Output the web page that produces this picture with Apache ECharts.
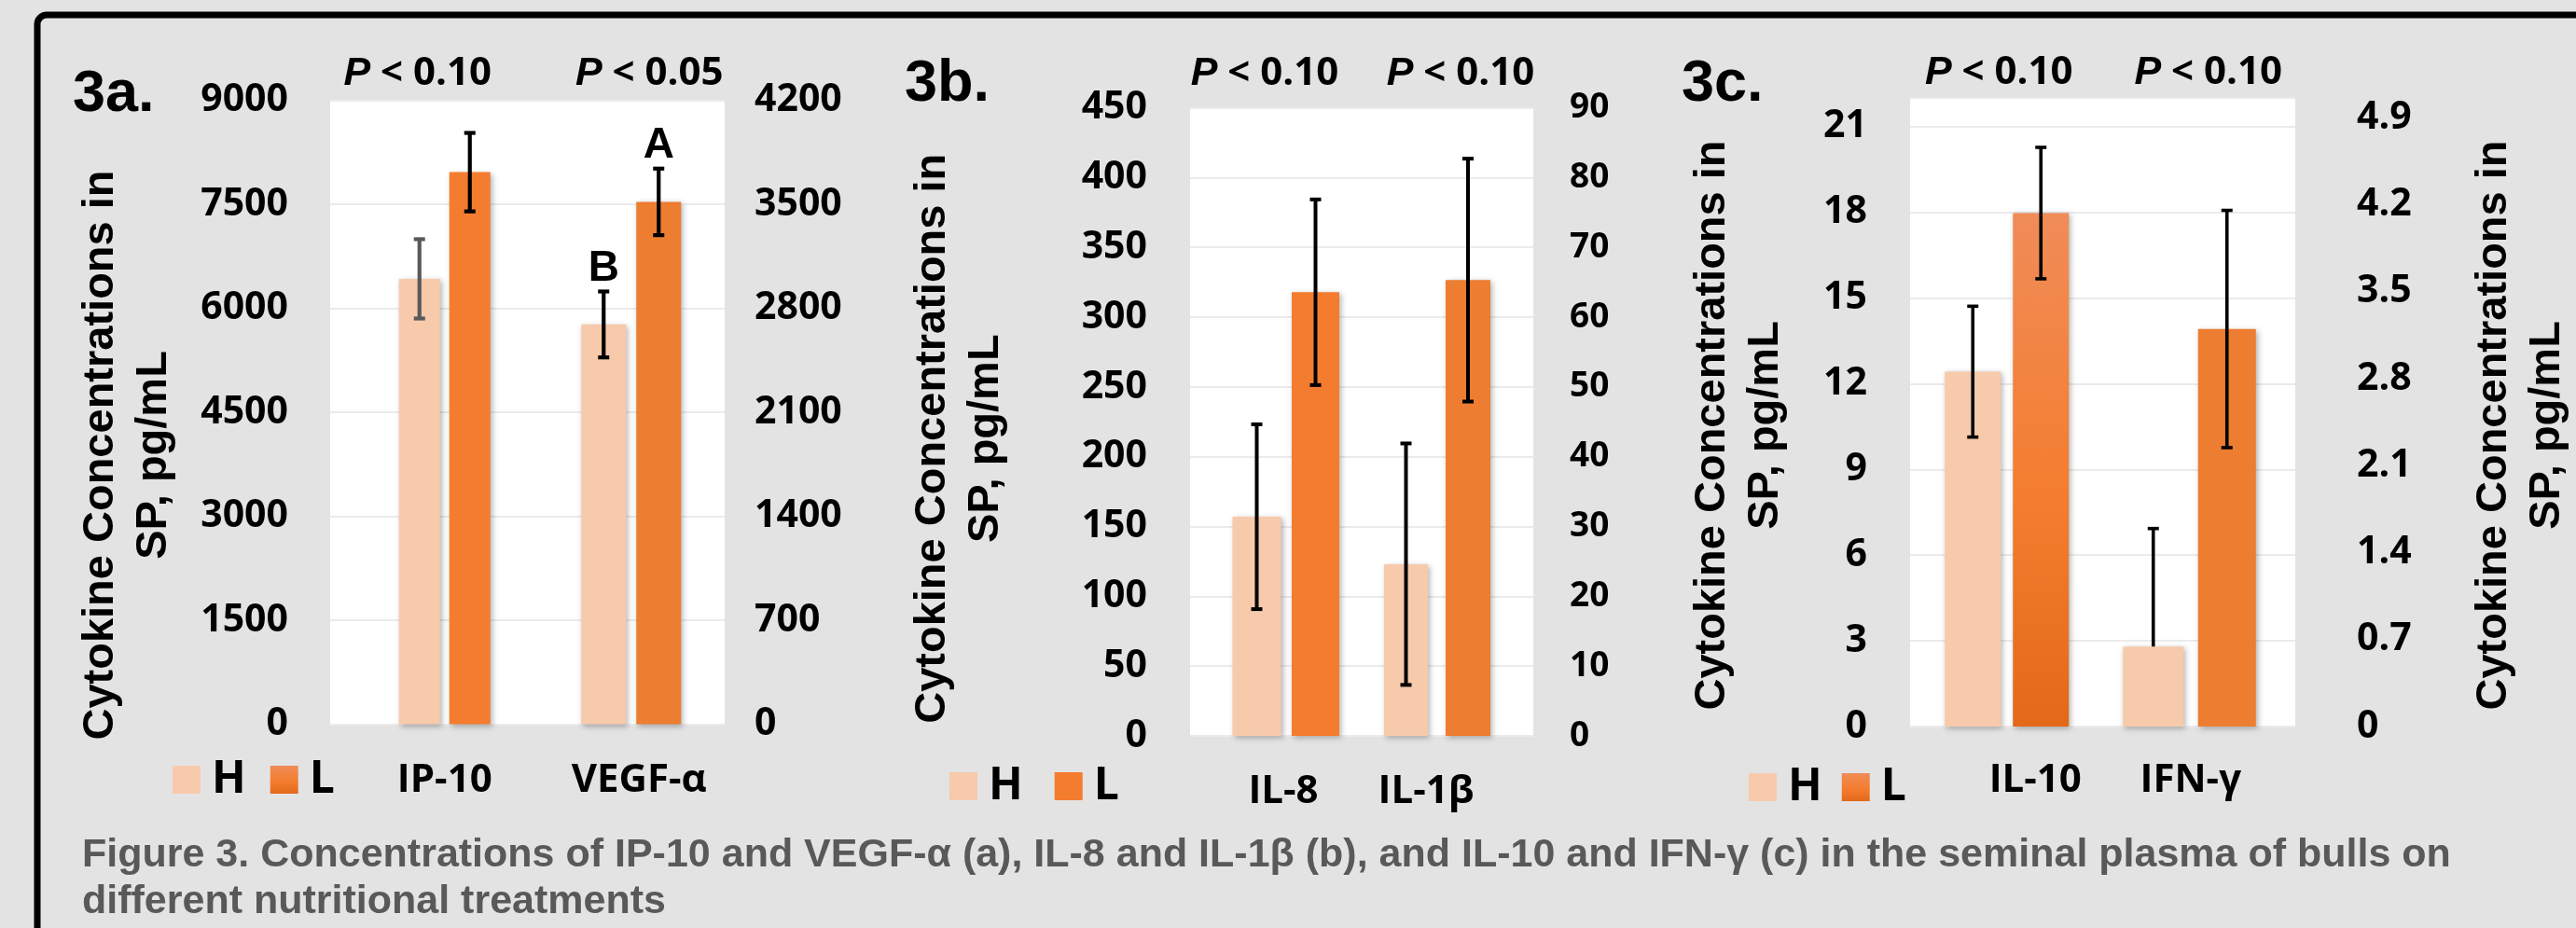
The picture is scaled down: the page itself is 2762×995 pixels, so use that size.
<!DOCTYPE html>
<html>
<head>
<meta charset="utf-8">
<title>Figure 3 - cytokines in seminal plasma</title>
<script src="https://cdn.jsdelivr.net/npm/echarts@6/dist/echarts.min.js"></script>
<style>
  html, body { margin: 0; padding: 0; background: #e3e3e3; }
  #chart { width: 2762px; height: 995px; }
</style>
</head>
<body>
<div id="chart"></div>
<script>
// -----------------------------------------
// DATA (pg/mL)
// first category -> left axis, second -> right axis
// -----------------------------------------
const catsA = ['IP-10', 'VEGF-α'];
const pValuesA = ['0.10', '0.05'];
const highA = [6424, 2691];
const lowA = [7963, 3516];
const highErrA = [572, 222];
const lowErrA = [566, 224];
const highLettersA = ['', 'B'];
const lowLettersA = ['', 'A'];
const leftTicksA = [0, 1500, 3000, 4500, 6000, 7500, 9000];
const rightTicksA = [0, 700, 1400, 2100, 2800, 3500, 4200];

const catsB = ['IL-8', 'IL-1β'];
const pValuesB = ['0.10', '0.10'];
const highB = [157, 24.6];
const lowB = [317.8, 65.3];
const highErrB = [66.2, 17.3];
const lowErrB = [66.5, 17.4];
const leftTicksB = [0, 50, 100, 150, 200, 250, 300, 350, 400, 450];
const rightTicksB = [0, 10, 20, 30, 40, 50, 60, 70, 80, 90];

const catsC = ['IL-10', 'IFN-γ'];
const pValuesC = ['0.10', '0.10'];
const highC = [12.42, 0.644];
const lowC = [17.97, 3.2];
const highErrC = [2.29, 0.95];
const highErrDownC = [2.29, 0]; // IFN-γ H only has the upper whisker
const lowErrC = [2.3, 0.955];
const leftTicksC = [0, 3, 6, 9, 12, 15, 18, 21];
const rightTicksC = [0, 0.7, 1.4, 2.1, 2.8, 3.5, 4.2, 4.9];
const axisTopC = [22, 5.06]; // plot area runs a bit past the last tick

const seriesNames = ['H', 'L'];
const panelTags = ['3a.', '3b.', '3c.'];
const caption = 'Figure 3. Concentrations of IP-10 and VEGF-α (a), IL-8 and IL-1β (b), and IL-10 and IFN-γ (c) in the seminal plasma of bulls on\ndifferent nutritional treatments';
const axisTitle = 'Cytokine Concentrations in\nSP, pg/mL';

// -----------------------------------------
// STYLE
// -----------------------------------------
const FONT_NUM = '"Open Sans", sans-serif';
const FONT_SANS = '"Liberation Sans", Arial, sans-serif';
const COLOR_H = '#f7caac';
const COLOR_L = '#f47c2f';
const COLOR_L2 = '#ed7d31';
const gradL = () => new echarts.graphic.LinearGradient(0, 0, 0, 1, [
  { offset: 0, color: '#f08c58' },
  { offset: 0.55, color: '#f47d2f' },
  { offset: 1, color: '#e3691a' }
]);

const panels = [
  {
    cats: catsA, pValues: pValuesA, high: highA, low: lowA,
    highErr: highErrA, highErrDown: highErrA, lowErr: lowErrA,
    highLetters: highLettersA, lowLetters: lowLettersA,
    leftTicks: leftTicksA, rightTicks: rightTicksA, axisTop: [null, null],
    tag: { left: 78, top: 70 },
    grid: { left: 354, top: 107.5, width: 423, height: 669 },
    barWidth: [[44, 44], [48, 48]],
    barShift: [[-10, 44], [-24, 35]],
    lowFill: [COLOR_L, COLOR_L2],
    errColor: [['#595959', '#000'], ['#000', '#000']],
    errWidth: 4.2,
    catShift: [17, 14], pShift: [-12, 25], pMargin: 7, catMargin: 40,
    leftLabel: { size: 41, margin: 45 }, rightLabel: { size: 41, margin: 32 },
    leftName: { gap: 160, shift: 46 }, rightName: null,
    legend: { left: 185, top: 812, gap: 26, pad: 7, lowIcon: gradL }
  },
  {
    cats: catsB, pValues: pValuesB, high: highB, low: lowB,
    highErr: highErrB, highErrDown: highErrB, lowErr: lowErrB,
    highLetters: ['', ''], lowLetters: ['', ''],
    leftTicks: leftTicksB, rightTicks: rightTicksB, axisTop: [null, null],
    tag: { left: 970, top: 59 },
    grid: { left: 1276, top: 115.5, width: 368, height: 673.5 },
    barWidth: [[52, 51], [47, 48]],
    barShift: [[-20.5, 42.5], [-44.5, 22]],
    lowFill: [COLOR_L, COLOR_L2],
    errColor: [['#000', '#000'], ['#000', '#000']],
    errWidth: 4,
    catShift: [8, -23], pShift: [-12, 14], pMargin: 15, catMargin: 39,
    leftLabel: { size: 41, margin: 46 }, rightLabel: { size: 37, margin: 39 },
    leftName: { gap: 190, shift: 18 }, rightName: null,
    legend: { left: 1018, top: 819, gap: 34, pad: 7, lowIcon: () => COLOR_L }
  },
  {
    cats: catsC, pValues: pValuesC, high: highC, low: lowC,
    highErr: highErrC, highErrDown: highErrDownC, lowErr: lowErrC,
    highLetters: ['', ''], lowLetters: ['', ''],
    leftTicks: leftTicksC, rightTicks: rightTicksC, axisTop: axisTopC,
    tag: { left: 1803, top: 59 },
    grid: { left: 2048, top: 105, width: 413, height: 674 },
    barWidth: [[60, 60], [65, 62]],
    barShift: [[-36, 37], [-49, 30]],
    lowFill: [gradL, COLOR_L2],
    errColor: [['#000', '#000'], ['#000', '#000']],
    errWidth: 3.6,
    catShift: [31, -9], pShift: [-8, 10], pMargin: 5, catMargin: 37,
    leftLabel: { size: 41, margin: 46 }, rightLabel: { size: 41, margin: 66 },
    leftName: { gap: 126, shift: 14 }, rightName: { gap: 185, shift: 14 },
    legend: { left: 1875, top: 820, gap: 21, pad: 7, lowIcon: gradL }
  }
];

// -----------------------------------------
// BUILDERS
// -----------------------------------------
function shiftPad(s) {
  return s >= 0 ? [0, 0, 0, 2 * s] : [0, -2 * s, 0, 0];
}

function categoryAxis(k, p) {
  const rich = {};
  p.catShift.forEach((s, i) => {
    rich['s' + i] = { fontFamily: FONT_NUM, fontWeight: 700, fontSize: 42, color: '#000', padding: shiftPad(s) };
  });
  return {
    gridIndex: k, type: 'category', position: 'bottom', data: p.cats,
    axisLine: { show: false }, axisTick: { show: false }, splitLine: { show: false },
    axisLabel: { margin: p.catMargin, interval: 0, formatter: (v, i) => `{s${i}|${v}}`, rich }
  };
}

function pValueAxis(k, p) {
  const rich = {};
  p.pShift.forEach((s, i) => {
    rich['p' + i] = { fontFamily: FONT_SANS, fontWeight: 'bold', fontStyle: 'italic', fontSize: 43, color: '#000',
      padding: s >= 0 ? [0, 0, 0, 2 * s] : 0 };
    rich['t' + i] = { fontFamily: FONT_NUM, fontWeight: 700, fontSize: 42, color: '#000',
      padding: s < 0 ? [0, -2 * s, 0, 0] : 0 };
  });
  return {
    gridIndex: k, type: 'category', position: 'top', data: p.cats,
    axisLine: { show: false }, axisTick: { show: false }, splitLine: { show: false },
    axisLabel: { margin: p.pMargin, interval: 0, formatter: (v, i) => `{p${i}|P}{t${i}| < ${p.pValues[i]}}`, rich }
  };
}

function valueAxis(k, ticks, top, side, label, name, showSplit) {
  const axis = {
    gridIndex: k, type: 'value', position: side,
    min: ticks[0], max: top == null ? ticks[ticks.length - 1] : top,
    interval: ticks[1] - ticks[0],
    axisLine: { show: false }, axisTick: { show: false },
    splitLine: { show: showSplit, lineStyle: { color: '#ebebeb', width: 2 } },
    axisLabel: {
      fontFamily: FONT_NUM, fontWeight: 700, fontSize: label.size, color: '#000',
      margin: label.margin, showMaxLabel: top == null,
      formatter: v => String(v) // no thousands separator
    }
  };
  if (name) {
    Object.assign(axis, {
      name: axisTitle, nameLocation: 'middle', nameRotate: 90, nameGap: name.gap,
      nameTextStyle: {
        fontFamily: FONT_SANS, fontWeight: 'bold', fontSize: 47, lineHeight: 57, color: '#000',
        padding: [0, 2 * name.shift, 0, 0]
      }
    });
  }
  return axis;
}

function barSeries(name, k, i, value, width, shift, fill) {
  return {
    type: 'custom', name, xAxisIndex: 2 * k, yAxisIndex: 2 * k + i,
    data: [[i, value]], z: 2, silent: true,
    itemStyle: { color: typeof fill === 'function' ? '#f47d2f' : fill },
    renderItem: (params, api) => {
      const top = api.coord([api.value(0), api.value(1)]);
      const base = api.coord([api.value(0), 0]);
      return {
        type: 'rect',
        shape: { x: top[0] + shift - width / 2, y: top[1], width, height: base[1] - top[1] },
        style: {
          fill: typeof fill === 'function' ? fill() : fill,
          shadowBlur: 6, shadowOffsetX: 2, shadowOffsetY: 2, shadowColor: 'rgba(0,0,0,0.3)'
        }
      };
    }
  };
}

function errorSeries(name, k, i, value, up, down, shift, color, lw, letter) {
  return {
    type: 'custom', name: name + ' SE', xAxisIndex: 2 * k, yAxisIndex: 2 * k + i,
    data: [[i, value + up, value - down]], z: 3, silent: true,
    renderItem: (params, api) => {
      const hi = api.coord([api.value(0), api.value(1)]);
      const lo = api.coord([api.value(0), api.value(2)]);
      const x = hi[0] + shift;
      const cap = 6;
      const line = { stroke: color, lineWidth: lw };
      const children = [
        { type: 'line', shape: { x1: x, y1: lo[1], x2: x, y2: hi[1] }, style: line },
        { type: 'line', shape: { x1: x - cap, y1: hi[1], x2: x + cap, y2: hi[1] }, style: line }
      ];
      if (down > 0) {
        children.push({ type: 'line', shape: { x1: x - cap, y1: lo[1], x2: x + cap, y2: lo[1] }, style: line });
      }
      if (letter) {
        children.push({
          type: 'text', x, y: hi[1] - 1,
          style: { text: letter, fontFamily: FONT_SANS, fontWeight: 'bold', fontSize: 46, fill: '#000', align: 'center', verticalAlign: 'bottom' }
        });
      }
      return { type: 'group', children };
    }
  };
}

function buildOption() {
  const opt = {
    backgroundColor: '#e3e3e3',
    animation: false,
    title: [], grid: [], xAxis: [], yAxis: [], legend: [], series: [],
    graphic: [{
      type: 'rect', silent: true, z: 100,
      shape: { x: 40, y: 16, width: 3200, height: 1400, r: 10 },
      style: { fill: null, stroke: '#000', lineWidth: 7 }
    }]
  };

  panels.forEach((p, k) => {
    opt.title.push({
      text: panelTags[k], left: p.tag.left, top: p.tag.top, padding: 0,
      textStyle: { fontFamily: FONT_SANS, fontWeight: 'bold', fontSize: 63, lineHeight: 63, color: '#000' }
    });
    opt.grid.push(Object.assign({ show: true, backgroundColor: '#fff', borderWidth: 0, containLabel: false, outerBoundsMode: 'none' }, p.grid));
    opt.xAxis.push(categoryAxis(k, p), pValueAxis(k, p));
    opt.yAxis.push(
      valueAxis(k, p.leftTicks, p.axisTop[0], 'left', p.leftLabel, p.leftName, true),
      valueAxis(k, p.rightTicks, p.axisTop[1], 'right', p.rightLabel, p.rightName, false)
    );

    p.cats.forEach((cat, i) => {
      const groups = [
        { name: seriesNames[0], v: p.high[i], up: p.highErr[i], down: p.highErrDown[i], fill: COLOR_H, letter: p.highLetters[i] },
        { name: seriesNames[1], v: p.low[i], up: p.lowErr[i], down: p.lowErr[i], fill: p.lowFill[i], letter: p.lowLetters[i] }
      ];
      groups.forEach((g, j) => {
        opt.series.push(barSeries(g.name, k, i, g.v, p.barWidth[i][j], p.barShift[i][j], g.fill));
        opt.series.push(errorSeries(g.name, k, i, g.v, g.up, g.down, p.barShift[i][j], p.errColor[i][j], p.errWidth, g.letter));
      });
    });

    opt.legend.push({
      left: p.legend.left, top: p.legend.top, padding: 0, orient: 'horizontal',
      itemWidth: 30, itemHeight: 30, itemGap: p.legend.gap, icon: 'rect', selectedMode: false,
      textStyle: { fontFamily: FONT_NUM, fontWeight: 700, fontSize: 48, color: '#000', padding: [0, 0, 0, p.legend.pad] },
      data: [
        { name: seriesNames[0], itemStyle: { color: COLOR_H, borderWidth: 0 } },
        { name: seriesNames[1], itemStyle: { color: p.legend.lowIcon(), borderWidth: 0 } }
      ]
    });
  });

  opt.title.push({
    text: caption, left: 88, top: 892, padding: 0,
    textStyle: { fontFamily: FONT_SANS, fontWeight: 'bold', fontSize: 43, lineHeight: 50, color: '#595959' }
  });
  return opt;
}

// -----------------------------------------
// BOOTSTRAP
// -----------------------------------------
const chart = echarts.init(document.getElementById('chart'), null, { renderer: 'canvas' });
chart.setOption(buildOption());
</script>
</body>
</html>
